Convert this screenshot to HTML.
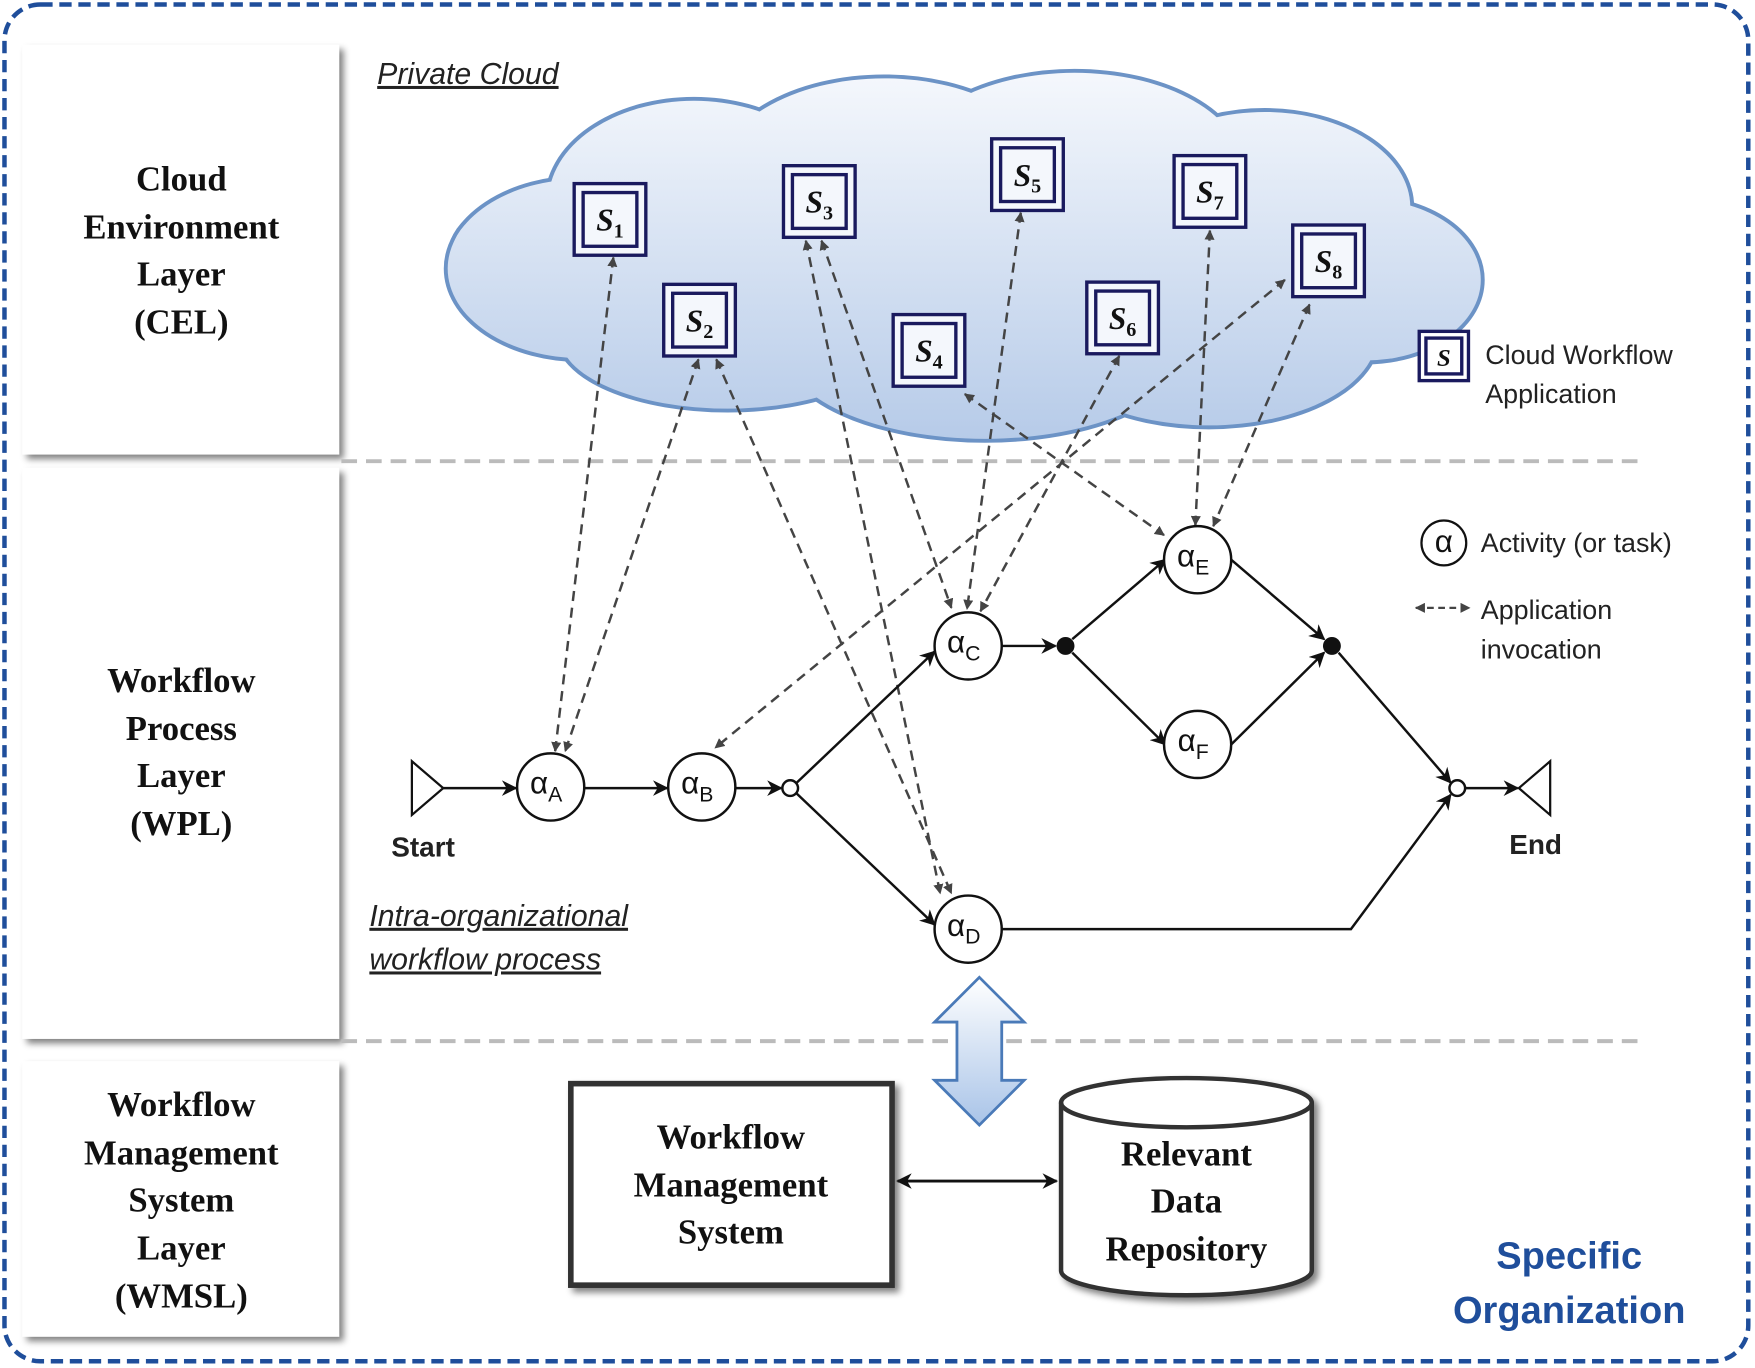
<!DOCTYPE html>
<html><head><meta charset="utf-8"><style>
html,body{margin:0;padding:0;background:#fff}
svg{display:block}
.serif{font-family:"Liberation Serif",serif;font-weight:bold;font-size:31px;fill:#111}
.sans{font-family:"Liberation Sans",sans-serif;font-size:24px;fill:#222}
.al{font-family:"Liberation Sans",sans-serif;font-size:28px;fill:#111}
.s{font-family:"Liberation Serif",serif;font-style:italic;font-weight:bold;font-size:28px;fill:#111}
</style></head><body>
<svg width="1755" height="1368" viewBox="0 0 1568 1222" preserveAspectRatio="none" xmlns="http://www.w3.org/2000/svg">
<defs>
<linearGradient id="cg" x1="0" y1="70" x2="0" y2="400" gradientUnits="userSpaceOnUse">
<stop offset="0" stop-color="#f4f7fc"/><stop offset="1" stop-color="#b5cae8"/></linearGradient>
<linearGradient id="bg" x1="0" y1="0" x2="0" y2="1"><stop offset="0" stop-color="#ffffff"/><stop offset="1" stop-color="#a9c4e8"/></linearGradient>
<marker id="ah" viewBox="0 0 10 10" refX="9" refY="5" markerWidth="9" markerHeight="9" markerUnits="userSpaceOnUse" orient="auto-start-reverse"><path d="M0,0 L10,5 L0,10 z" fill="#444"/></marker>
<marker id="as" viewBox="0 0 10 10" refX="9" refY="5" markerWidth="14" markerHeight="14" markerUnits="userSpaceOnUse" orient="auto-start-reverse"><path d="M0,0 L10,5 L0,10 L3,5 z" fill="#111"/></marker>
<filter id="sh" x="-10%" y="-10%" width="130%" height="130%"><feGaussianBlur in="SourceAlpha" stdDeviation="3"/><feOffset dx="4" dy="4"/><feComponentTransfer><feFuncA type="linear" slope="0.5"/></feComponentTransfer><feMerge><feMergeNode/><feMergeNode in="SourceGraphic"/></feMerge></filter>
</defs>
<rect x="4" y="4" width="1558" height="1212" rx="32" fill="none" stroke="#1f4e9b" stroke-width="4" stroke-dasharray="11 6"/>
<g filter="url(#sh)" fill="#fff">
<rect x="20" y="40" width="283" height="366"/>
<rect x="20" y="418" width="283" height="510"/>
<rect x="20" y="948" width="283" height="246"/>
</g>
<g class="serif" text-anchor="middle">
<text x="162" y="170">Cloud</text><text x="162" y="213">Environment</text><text x="162" y="255">Layer</text><text x="162" y="298">(CEL)</text>
<text x="162" y="618">Workflow</text><text x="162" y="661">Process</text><text x="162" y="703">Layer</text><text x="162" y="746">(WPL)</text>
<text x="162" y="997">Workflow</text><text x="162" y="1040">Management</text><text x="162" y="1082">System</text><text x="162" y="1125">Layer</text><text x="162" y="1168">(WMSL)</text>
</g>
<line x1="305" y1="412" x2="1470" y2="412" stroke="#bbb" stroke-width="3.5" stroke-dasharray="14 8"/>
<line x1="305" y1="930" x2="1470" y2="930" stroke="#bbb" stroke-width="3.5" stroke-dasharray="14 8"/>
<text x="337" y="75" class="sans" style="font-style:italic;font-size:27px" text-decoration="underline">Private Cloud</text>
<g stroke="#6c93c6" stroke-width="7">
<ellipse cx="520" cy="240" rx="120" ry="80"/><ellipse cx="620" cy="180" rx="130" ry="90"/><ellipse cx="790" cy="160" rx="150" ry="90"/><ellipse cx="960" cy="150" rx="150" ry="85"/><ellipse cx="1130" cy="185" rx="130" ry="85"/><ellipse cx="1220" cy="250" rx="103" ry="72"/><ellipse cx="1080" cy="300" rx="150" ry="80"/><ellipse cx="880" cy="310" rx="180" ry="82"/><ellipse cx="650" cy="300" rx="150" ry="65"/><ellipse cx="475" cy="230" rx="72" ry="52"/>
</g>
<g fill="url(#cg)">
<ellipse cx="520" cy="240" rx="120" ry="80"/><ellipse cx="620" cy="180" rx="130" ry="90"/><ellipse cx="790" cy="160" rx="150" ry="90"/><ellipse cx="960" cy="150" rx="150" ry="85"/><ellipse cx="1130" cy="185" rx="130" ry="85"/><ellipse cx="1220" cy="250" rx="103" ry="72"/><ellipse cx="1080" cy="300" rx="150" ry="80"/><ellipse cx="880" cy="310" rx="180" ry="82"/><ellipse cx="650" cy="300" rx="150" ry="65"/><ellipse cx="475" cy="230" rx="72" ry="52"/>
<ellipse cx="870" cy="235" rx="300" ry="95"/>
</g>
<g fill="none" stroke="#1a1a5e" stroke-width="3">
<g transform="translate(545,196)"><rect x="-32" y="-32" width="64" height="64" fill="#f4f7fc"/><rect x="-24" y="-24" width="48" height="48"/></g>
<g transform="translate(625,286)"><rect x="-32" y="-32" width="64" height="64" fill="#f4f7fc"/><rect x="-24" y="-24" width="48" height="48"/></g>
<g transform="translate(732,180)"><rect x="-32" y="-32" width="64" height="64" fill="#f4f7fc"/><rect x="-24" y="-24" width="48" height="48"/></g>
<g transform="translate(830,313)"><rect x="-32" y="-32" width="64" height="64" fill="#f4f7fc"/><rect x="-24" y="-24" width="48" height="48"/></g>
<g transform="translate(918,156)"><rect x="-32" y="-32" width="64" height="64" fill="#f4f7fc"/><rect x="-24" y="-24" width="48" height="48"/></g>
<g transform="translate(1003,284)"><rect x="-32" y="-32" width="64" height="64" fill="#f4f7fc"/><rect x="-24" y="-24" width="48" height="48"/></g>
<g transform="translate(1081,171)"><rect x="-32" y="-32" width="64" height="64" fill="#f4f7fc"/><rect x="-24" y="-24" width="48" height="48"/></g>
<g transform="translate(1187,233)"><rect x="-32" y="-32" width="64" height="64" fill="#f4f7fc"/><rect x="-24" y="-24" width="48" height="48"/></g>
<g transform="translate(1290,318)"><rect x="-22" y="-22" width="44" height="44" fill="#fff"/><rect x="-16" y="-16" width="32" height="32"/></g>
</g>
<g class="s" text-anchor="middle">
<text x="545" y="206">S<tspan font-size="18" font-style="normal" dy="6">1</tspan></text>
<text x="625" y="296">S<tspan font-size="18" font-style="normal" dy="6">2</tspan></text>
<text x="732" y="190">S<tspan font-size="18" font-style="normal" dy="6">3</tspan></text>
<text x="830" y="323">S<tspan font-size="18" font-style="normal" dy="6">4</tspan></text>
<text x="918" y="166">S<tspan font-size="18" font-style="normal" dy="6">5</tspan></text>
<text x="1003" y="294">S<tspan font-size="18" font-style="normal" dy="6">6</tspan></text>
<text x="1081" y="181">S<tspan font-size="18" font-style="normal" dy="6">7</tspan></text>
<text x="1187" y="243">S<tspan font-size="18" font-style="normal" dy="6">8</tspan></text>
<text x="1290" y="327" font-size="22">S</text>
</g>
<g class="sans"><text x="1327" y="325">Cloud Workflow</text><text x="1327" y="360">Application</text>
<text x="1323" y="493">Activity (or task)</text><text x="1323" y="553">Application</text><text x="1323" y="588">invocation</text></g>
<circle cx="1290" cy="485" r="20" fill="#fff" stroke="#111" stroke-width="2"/>
<text x="1290" y="493" class="al" text-anchor="middle" font-size="24">α</text>
<line x1="1265" y1="543" x2="1313" y2="543" stroke="#444" stroke-width="2" stroke-dasharray="6 4" marker-start="url(#ah)" marker-end="url(#ah)"/>
<g stroke="#444" stroke-width="2.2" stroke-dasharray="9 6" fill="none" marker-start="url(#ah)" marker-end="url(#ah)">
<line x1="548" y1="230" x2="496" y2="671"/>
<line x1="624" y1="321" x2="505" y2="671"/>
<line x1="640" y1="321" x2="850" y2="798"/>
<line x1="720" y1="215" x2="840" y2="798"/>
<line x1="734" y1="215" x2="850" y2="543"/>
<line x1="862" y1="352" x2="1040" y2="478"/>
<line x1="912" y1="190" x2="864" y2="544"/>
<line x1="1000" y1="318" x2="876" y2="546"/>
<line x1="1081" y1="206" x2="1068" y2="469"/>
<line x1="1148" y1="250" x2="639" y2="668"/>
<line x1="1170" y1="272" x2="1084" y2="470"/>
</g>
<g stroke="#111" stroke-width="2.2" fill="none" marker-end="url(#as)">
<line x1="396" y1="704" x2="461" y2="704"/>
<line x1="522" y1="704" x2="596" y2="704"/>
<line x1="657" y1="704" x2="698" y2="704"/>
<line x1="712" y1="699" x2="835" y2="582"/>
<line x1="712" y1="709" x2="835" y2="826"/>
<line x1="895" y1="577" x2="943" y2="577"/>
<line x1="958" y1="571" x2="1041" y2="500"/>
<line x1="958" y1="583" x2="1041" y2="665"/>
<line x1="1100" y1="500" x2="1183" y2="571"/>
<line x1="1100" y1="665" x2="1183" y2="583"/>
<line x1="1196" y1="583" x2="1296" y2="699"/>
<polyline points="895,830 1207,830 1296,710"/>
<line x1="1309" y1="704" x2="1356" y2="704"/>
</g>
<polygon points="368,680 368,728 396,704" fill="#fff" stroke="#111" stroke-width="2"/>
<polygon points="1385,680 1385,728 1357,704" fill="#fff" stroke="#111" stroke-width="2"/>
<text x="378" y="765" class="sans" text-anchor="middle" style="font-size:25px;font-weight:bold">Start</text>
<text x="1372" y="763" class="sans" text-anchor="middle" style="font-size:25px;font-weight:bold">End</text>
<g fill="#fff" stroke="#111" stroke-width="2.2">
<circle cx="492" cy="703" r="30"/><circle cx="627" cy="703" r="30"/><circle cx="865" cy="577" r="30"/><circle cx="865" cy="830" r="30"/><circle cx="1070" cy="500" r="30"/><circle cx="1070" cy="665" r="30"/>
<circle cx="706" cy="704" r="7"/><circle cx="1302" cy="704" r="7"/>
</g>
<circle cx="952" cy="577" r="8" fill="#111"/><circle cx="1190" cy="577" r="8" fill="#111"/>
<g class="al" text-anchor="middle">
<text x="488" y="709">α<tspan font-size="19" dy="7">A</tspan></text>
<text x="623" y="709">α<tspan font-size="19" dy="7">B</tspan></text>
<text x="861" y="583">α<tspan font-size="19" dy="7">C</tspan></text>
<text x="861" y="836">α<tspan font-size="19" dy="7">D</tspan></text>
<text x="1066" y="506">α<tspan font-size="19" dy="7">E</tspan></text>
<text x="1066" y="671">α<tspan font-size="19" dy="7">F</tspan></text>
</g>
<g class="sans" style="font-style:italic;font-size:27px" text-decoration="underline"><text x="330" y="827">Intra-organizational</text><text x="330" y="866">workflow process</text></g>
<path d="M875,873 L915,913 L895,913 L895,965 L915,965 L875,1005 L835,965 L855,965 L855,913 L835,913 Z" fill="url(#bg)" stroke="#4a7ab8" stroke-width="2.5"/>
<rect x="510" y="968" width="287" height="180" fill="#fff" stroke="#333" stroke-width="5" filter="url(#sh)"/>
<g class="serif" text-anchor="middle"><text x="653" y="1026">Workflow</text><text x="653" y="1069">Management</text><text x="653" y="1111">System</text></g>
<g filter="url(#sh)"><path d="M948,985 L948,1135 A112,22 0 0 0 1172,1135 L1172,985 A112,22 0 0 0 948,985 Z" fill="#fff" stroke="#333" stroke-width="4"/>
<path d="M948,985 A112,22 0 0 0 1172,985" fill="none" stroke="#333" stroke-width="4"/></g>
<g class="serif" text-anchor="middle"><text x="1060" y="1041">Relevant</text><text x="1060" y="1083">Data</text><text x="1060" y="1126">Repository</text></g>
<line x1="802" y1="1055" x2="944" y2="1055" stroke="#111" stroke-width="2.5" marker-start="url(#as)" marker-end="url(#as)"/>
<g font-family="Liberation Sans,sans-serif" font-weight="bold" font-size="34" fill="#1f4e9b" text-anchor="middle"><text x="1402" y="1133">Specific</text><text x="1402" y="1182">Organization</text></g>
</svg>
</body></html>
